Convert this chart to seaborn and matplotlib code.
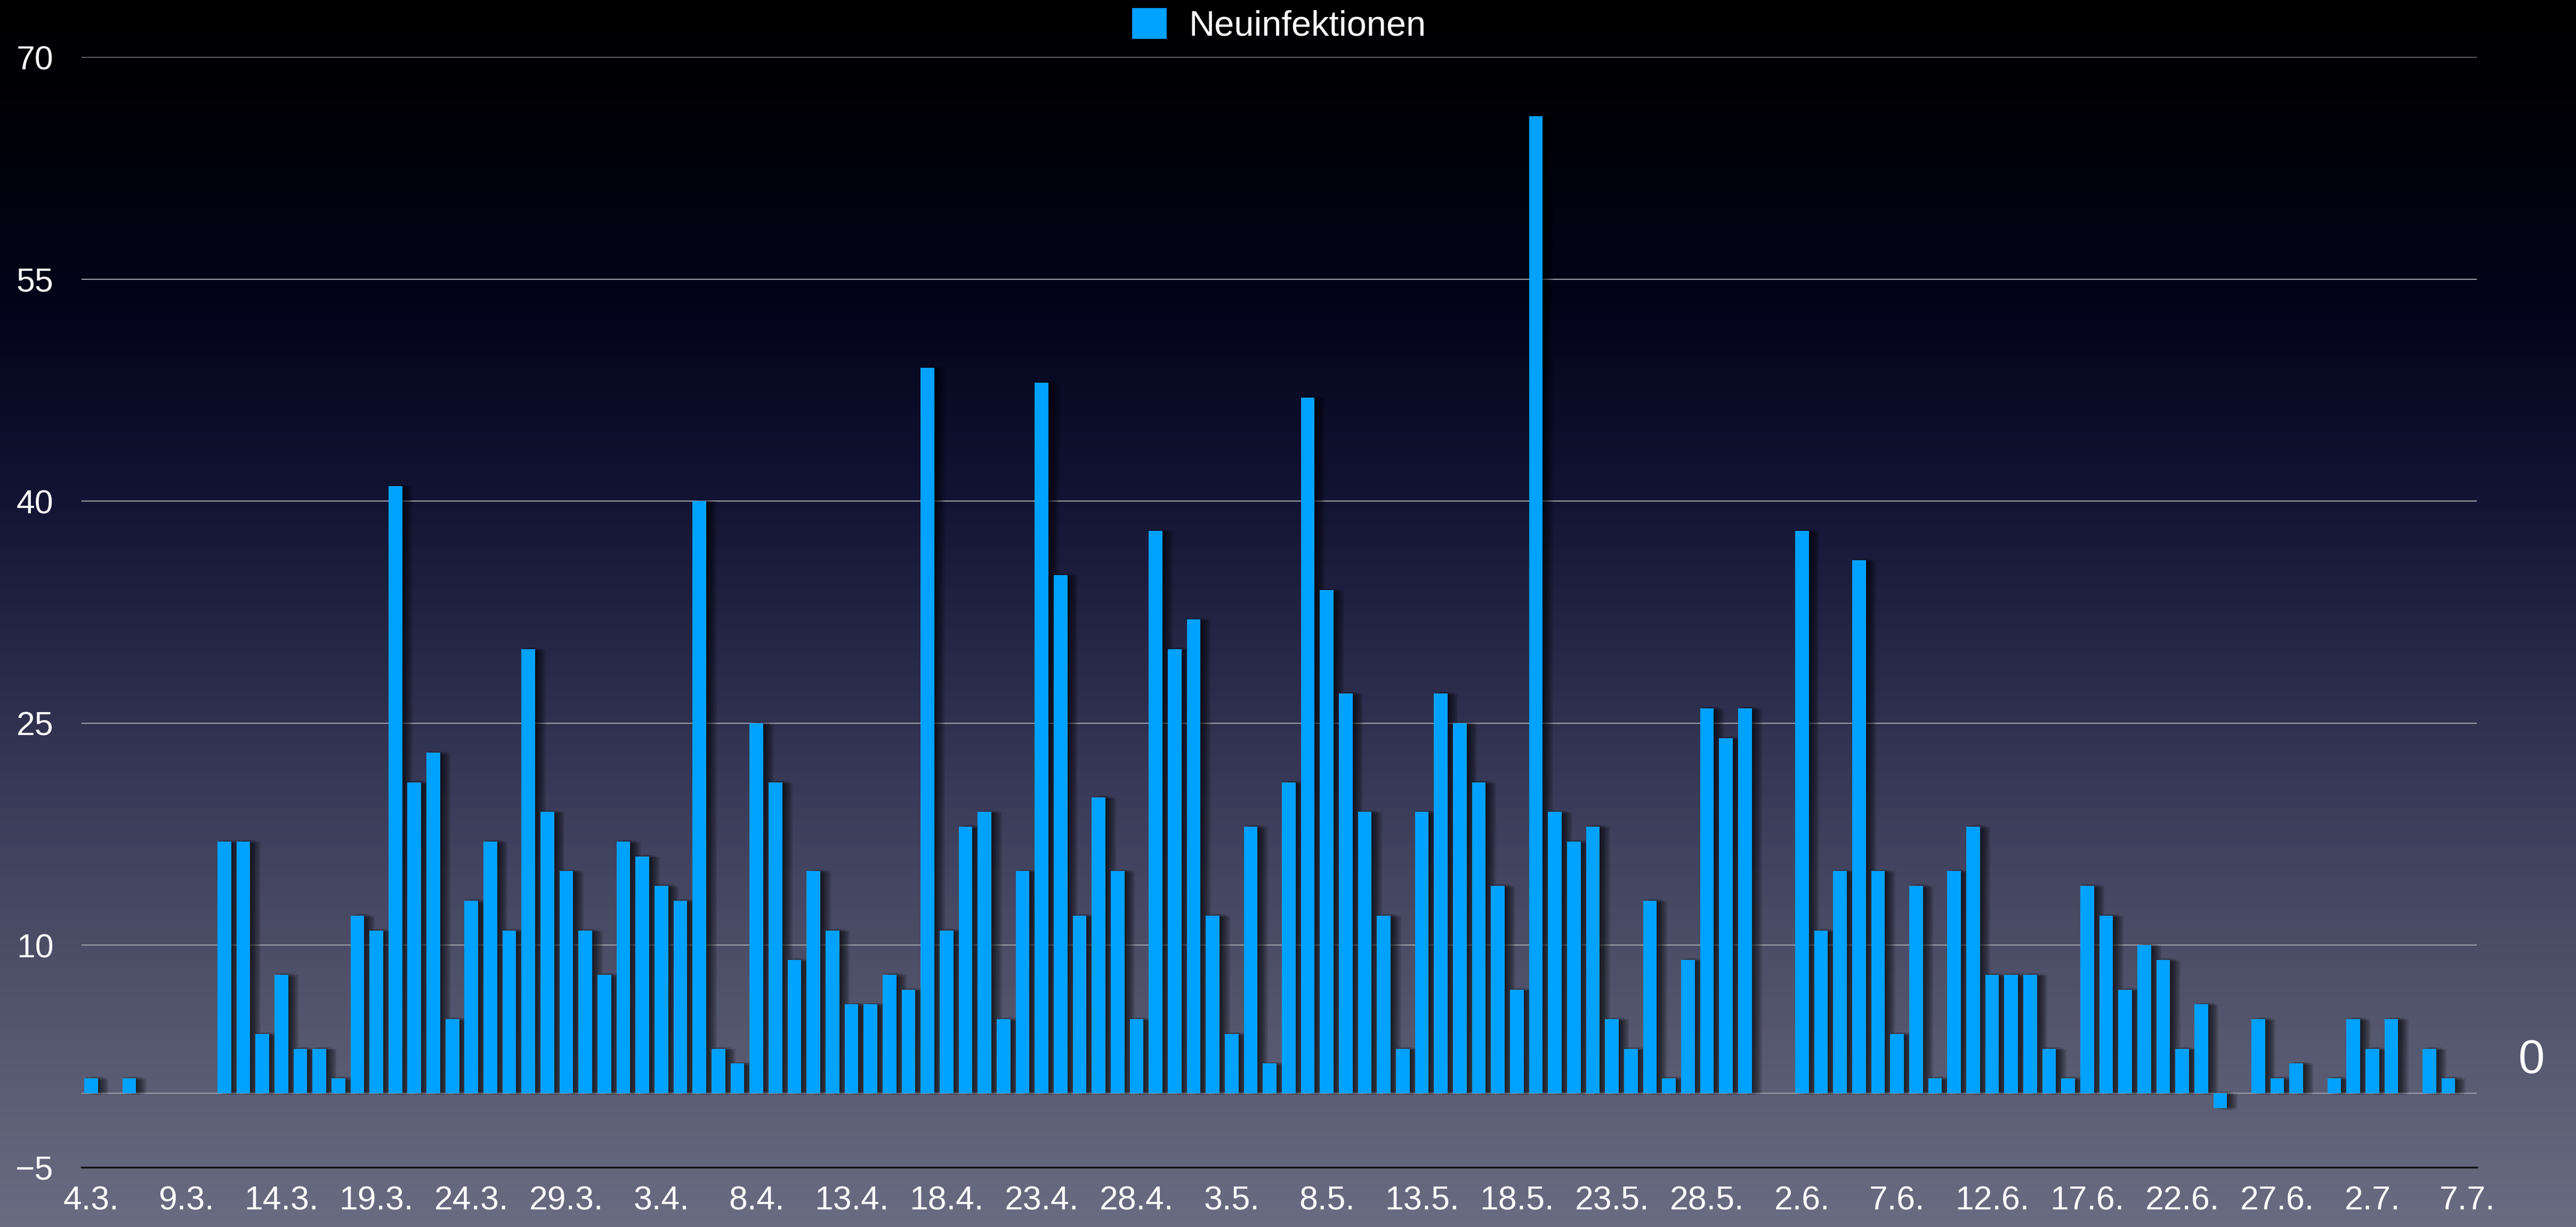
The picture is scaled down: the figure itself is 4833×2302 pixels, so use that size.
import numpy as np
import pandas as pd
import matplotlib
matplotlib.use('Agg')
import matplotlib.pyplot as plt
import matplotlib.patheffects as pe
from matplotlib.colors import LinearSegmentedColormap
from matplotlib.patches import Patch
import seaborn as sns

# daily new infections, 4.3. - 7.7.
march_days = list(range(4, 32))
march_vals = [1, 0, 1, 0, 0, 0, 0,
              17, 17, 4, 8, 3, 3, 1,
              12, 11, 41, 21, 23, 5, 13,
              17, 11, 30, 19, 15, 11, 8]
april_days = list(range(1, 31))
april_vals = [17, 16, 14, 13, 40, 3, 2,
              25, 21, 9, 15, 11, 6, 6,
              8, 7, 49, 11, 18, 19, 5,
              15, 48, 35, 12, 20, 15, 5,
              38, 30]
may_days = list(range(1, 32))
may_vals = [32, 12, 4, 18, 2, 21, 47,
            34, 27, 19, 12, 3, 19, 27,
            25, 21, 14, 7, 66, 19, 17,
            18, 5, 3, 13, 1, 9, 26,
            24, 26, 0]
june_days = list(range(1, 31))
june_vals = [0, 38, 11, 15, 36, 15, 4,
             14, 1, 15, 18, 8, 8, 8,
             3, 1, 14, 12, 7, 10, 9,
             3, 6, -1, 0, 5, 1, 2,
             0, 1]
july_days = list(range(1, 8))
july_vals = [5, 3, 5, 0, 3, 1, 0]

y_ticks = [-5, 10, 25, 40, 55, 70]
series_name = 'Neuinfektionen'

months = [(3, march_days, march_vals), (4, april_days, april_vals),
          (5, may_days, may_vals), (6, june_days, june_vals),
          (7, july_days, july_vals)]
labels, values = [], []
for m, days, vals in months:
    labels += [f"{d}.{m}." for d in days]
    values += vals
df = pd.DataFrame({'Datum': labels, 'Neu': values})

bar_color = '#00A2FF'

sns.set_style('white')
plt.rcParams['font.family'] = ['Liberation Sans', 'DejaVu Sans']

fig = plt.figure(figsize=(24.165, 11.51), dpi=200)

# background gradient
bg = fig.add_axes([0, 0, 1, 1], zorder=-10)
grad_cmap = LinearSegmentedColormap.from_list('bg', [
    (0.0, '#000000'), (0.08, '#010106'), (0.25, '#03041a'),
    (0.40, '#121332'), (0.55, '#2a2b4a'), (0.70, '#42435f'),
    (0.85, '#56586f'), (1.0, '#6a6c82')])
bg.imshow(np.linspace(0, 1, 512).reshape(-1, 1), aspect='auto', cmap=grad_cmap,
          extent=[0, 1, 0, 1])
bg.axis('off')

ax = fig.add_axes([0.0317, 0.0487, 0.9298, 0.9048])
ax.set_facecolor('none')

sns.barplot(data=df, x='Datum', y='Neu', color=bar_color, saturation=1,
            width=0.72, linewidth=0, edgecolor='none', ax=ax, zorder=3)

shadow = [pe.SimplePatchShadow(offset=(d, dy), shadow_rgbFace='black', alpha=0.13)
          for d, dy in [(1, 1), (2, 0), (3, -1), (4, 1), (5, 0), (6, -1), (7, 0)]]
for p in ax.patches:
    if p.get_height() == 0:
        p.set_visible(False)
        continue
    p.set_path_effects(shadow + [pe.Normal()])

ax.set_ylim(-5, 70)
ax.set_xlim(-0.5, len(labels) - 0.5)
ax.set_yticks(y_ticks)
ax.set_xticks(range(0, len(labels), 5))
ax.set_xticklabels(labels[::5])
ax.tick_params(axis='both', colors='white', labelsize=22.5, length=0)
ax.tick_params(axis='y', pad=19)
ax.tick_params(axis='x', pad=12)
ax.set_xlabel('')
ax.set_ylabel('')

ax.set_axisbelow(True)
ax.yaxis.grid(True, color='#9a9aa6', linewidth=0.8)
ax.xaxis.grid(False)
ax.axhline(0, color='#9a9aa6', linewidth=0.8, zorder=1)
for s in ['top', 'left', 'right']:
    ax.spines[s].set_visible(False)
ax.spines['bottom'].set_color('#101014')
ax.spines['bottom'].set_linewidth(1.2)

fig.legend(handles=[Patch(color=bar_color)], labels=[series_name],
           loc='center', bbox_to_anchor=(0.4966, 0.979), frameon=False,
           fontsize=24, labelcolor='white', handlelength=0.93,
           handleheight=0.9, handletextpad=0.66)

fig.text(0.9826, 0.1355, '0', color='white', fontsize=32,
         ha='center', va='center')

fig.savefig('out.png', dpi=200)
